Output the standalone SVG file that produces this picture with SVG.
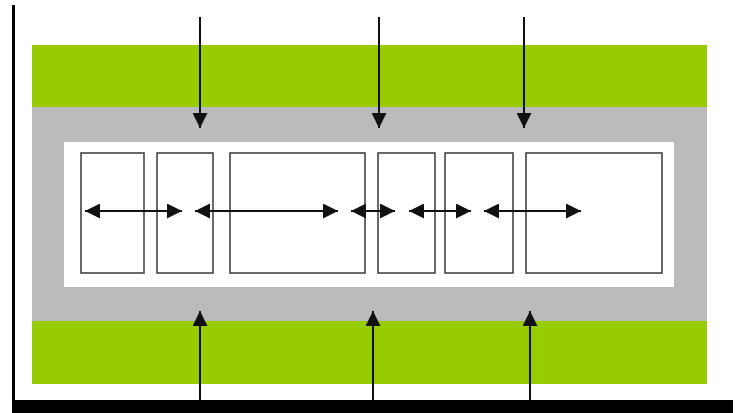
<svg xmlns="http://www.w3.org/2000/svg" width="738" height="413" viewBox="0 0 738 413">
<defs>
<style>
.green{fill:#99cc00}
.gray{fill:#bbbbbb}
.inner{fill:#ffffff}
.box{fill:#ffffff;stroke:#444444;stroke-width:1.6}
.conn line{stroke:#111111;stroke-width:2}
.v{marker-end:url(#ah)}
.h{marker-start:url(#ah);marker-end:url(#ah)}
</style>
<marker id="ah" markerUnits="userSpaceOnUse" markerWidth="15" markerHeight="15" refX="15" refY="7.5" orient="auto-start-reverse">
<path d="M0,0 L15,7.5 L0,15 z" fill="#111111"/>
</marker>
</defs>
<rect width="738" height="413" fill="#ffffff"/>
<g id="frame">
<rect x="12" y="5" width="3" height="400" fill="#000000"/>
<rect x="12" y="400" width="721" height="13" fill="#000000"/>
</g>
<g id="bands">
<rect class="gray" x="32" y="107" width="675" height="214"/>
<rect class="green" x="32" y="45" width="675" height="62"/>
<rect class="green" x="32" y="321" width="675" height="63"/>
<rect class="inner" x="64" y="142" width="610" height="145"/>
</g>
<g id="box1"><rect class="box" x="81" y="153" width="63" height="120"/></g>
<g id="box2"><rect class="box" x="157" y="153" width="56" height="120"/></g>
<g id="box3"><rect class="box" x="230" y="153" width="135" height="120"/></g>
<g id="box4"><rect class="box" x="378" y="153" width="57" height="120"/></g>
<g id="box5"><rect class="box" x="445" y="153" width="68" height="120"/></g>
<g id="box6"><rect class="box" x="526" y="153" width="136" height="120"/></g>
<g id="connectors" class="conn">
<line class="v" x1="200" y1="17" x2="200" y2="128"/>
<line class="v" x1="379" y1="17" x2="379" y2="128"/>
<line class="v" x1="524" y1="17" x2="524" y2="128"/>
<line class="v" x1="200" y1="400" x2="200" y2="311"/>
<line class="v" x1="373" y1="400" x2="373" y2="311"/>
<line class="v" x1="530" y1="400" x2="530" y2="311"/>
<line class="h" x1="85" y1="211" x2="182" y2="211"/>
<line class="h" x1="195" y1="211" x2="338" y2="211"/>
<line class="h" x1="351" y1="211" x2="395" y2="211"/>
<line class="h" x1="409" y1="211" x2="471" y2="211"/>
<line class="h" x1="484" y1="211" x2="581" y2="211"/>
</g>
</svg>
